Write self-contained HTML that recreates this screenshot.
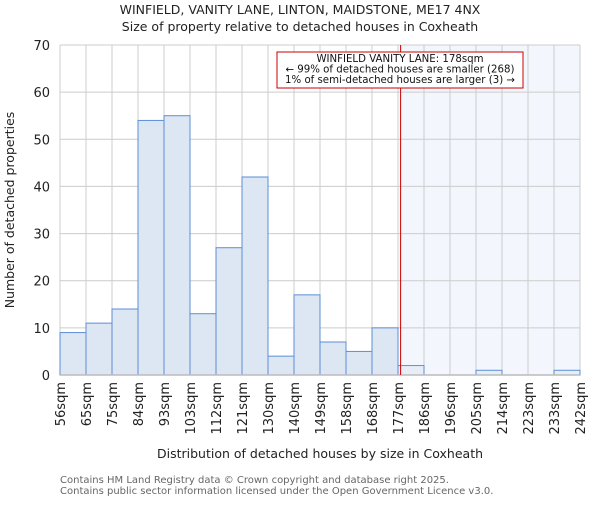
<!DOCTYPE html>
<html><head><meta charset="utf-8"><style>
body{margin:0;background:#fff;}
text{font-family:"DejaVu Sans","Liberation Sans",sans-serif;}
</style></head><body>
<svg id="chart" width="600" height="500" xmlns="http://www.w3.org/2000/svg">
<text x="300" y="14" text-anchor="middle" font-size="12.5" fill="#222">WINFIELD, VANITY LANE, LINTON, MAIDSTONE, ME17 4NX</text>
<text x="300" y="31" text-anchor="middle" font-size="12.5" fill="#222">Size of property relative to detached houses in Coxheath</text>
<g id="plot"></g>
<text x="320" y="458" text-anchor="middle" font-size="12.5" fill="#222">Distribution of detached houses by size in Coxheath</text>
<text transform="translate(14,210) rotate(-90)" text-anchor="middle" font-size="12.5" fill="#222">Number of detached properties</text>
<text x="60" y="483" font-size="10" fill="#666">Contains HM Land Registry data © Crown copyright and database right 2025.</text>
<text x="60" y="494" font-size="10" fill="#666">Contains public sector information licensed under the Open Government Licence v3.0.</text>
</svg>
<script>
const categories=["56sqm","65sqm","75sqm","84sqm","93sqm","103sqm","112sqm","121sqm","130sqm","140sqm","149sqm","158sqm","168sqm","177sqm","186sqm","196sqm","205sqm","214sqm","223sqm","233sqm","242sqm"];
const counts=[9,11,14,54,55,13,27,42,4,17,7,5,10,2,0,0,1,0,0,1];
const yTicks=[0,10,20,30,40,50,60,70];
const markerBin=13.1;
const NS="http://www.w3.org/2000/svg";
const L=60,R=580,T=45,B=375,yMax=70;
const bw=(R-L)/counts.length;
const xs=i=>L+i*bw;
const ys=v=>B-v/yMax*(B-T);
const g=document.getElementById('plot');
function mk(t,a){const e=document.createElementNS(NS,t);for(const k in a)e.setAttribute(k,a[k]);g.appendChild(e);return e;}
const mx=xs(markerBin);
let e=mk('rect',{x:mx,y:T,width:R-mx,height:B-T,fill:'#f3f6fd'});


yTicks.forEach(v=>{
 let l=mk('line',{x1:L,x2:R,y1:ys(v),y2:ys(v),stroke:'#ccc','stroke-width':1});
 
 
 let t=mk('text',{x:L-10,y:ys(v)+5,'text-anchor':'end','font-size':'13',fill:'#222'});
 t.textContent=v;
 
 
});
categories.forEach((c,i)=>{
 let l=mk('line',{x1:xs(i),x2:xs(i),y1:T,y2:B,stroke:'#ccc','stroke-width':1});
 
 
 let t=mk('text',{transform:`translate(${xs(i)+5},382) rotate(-90)`,'text-anchor':'end','font-size':'13',fill:'#222'});
 t.textContent=c;
 
 
});
counts.forEach((v,i)=>{
 if(v<=0)return;
 let r=mk('rect',{x:xs(i),y:ys(v),width:bw,height:B-ys(v),fill:i>=13?'#e8eef8':'#dde6f3',stroke:'#5b8fd6','stroke-width':1});
 
 
});
let ax=mk('line',{x1:L,x2:R,y1:B,y2:B,stroke:'#bbb','stroke-width':1.5});


let ml=mk('line',{x1:mx,x2:mx,y1:T,y2:B,stroke:'#cc0000','stroke-width':1});


let box=mk('rect',{x:277,y:52,width:246,height:36,fill:'#fff',stroke:'#cc0000','stroke-width':1});


const ann=["WINFIELD VANITY LANE: 178sqm","← 99% of detached houses are smaller (268)","1% of semi-detached houses are larger (3) →"];
ann.forEach((s,i)=>{
 let t=mk('text',{x:400,y:62+i*10.5,'text-anchor':'middle','font-size':'10.2',fill:'#111'});
 t.textContent=s;
 
 
});
</script>
</body></html>
